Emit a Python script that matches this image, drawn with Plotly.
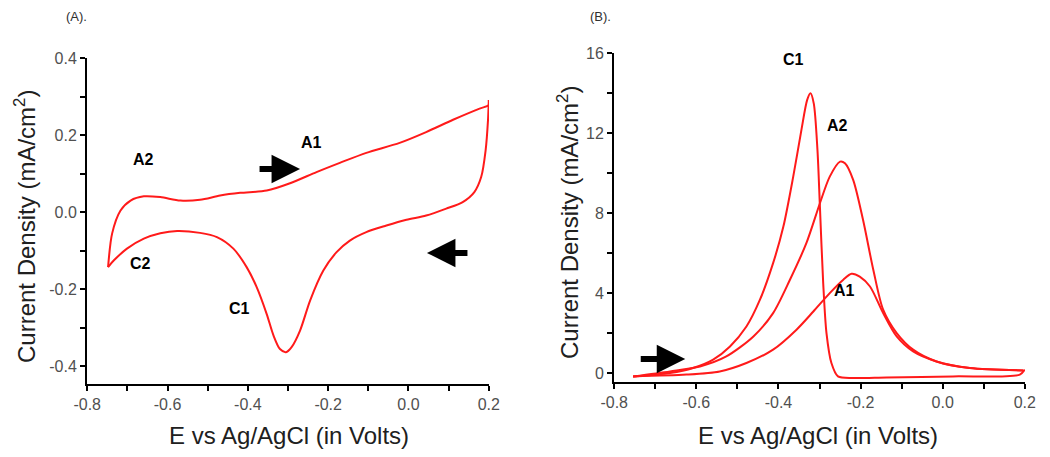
import plotly.graph_objects as go

# ---------------- Data: panel (A) cyclic voltammogram ----------------
a_fwd_x = [-0.748, -0.738, -0.717, -0.692, -0.659, -0.618, -0.568, -0.519, -0.469, -0.419,
           -0.353, -0.295, -0.229, -0.171, -0.105, -0.022, 0.044, 0.111, 0.177, 0.2, 0.2]
a_fwd_y = [-0.143, -0.056, 0.004, 0.030, 0.041, 0.039, 0.030, 0.032, 0.043, 0.050,
           0.056, 0.075, 0.104, 0.128, 0.154, 0.180, 0.208, 0.240, 0.269, 0.278, 0.291]
a_rev_x = [0.2, 0.198, 0.192, 0.181, 0.164, 0.135, 0.094, 0.044, -0.005, -0.055, -0.105,
           -0.146, -0.179, -0.212, -0.245, -0.270, -0.291, -0.305, -0.320, -0.336, -0.353,
           -0.378, -0.403, -0.436, -0.477, -0.519, -0.576, -0.618, -0.659, -0.701, -0.734, -0.748]
a_rev_y = [0.291, 0.239, 0.160, 0.091, 0.052, 0.026, 0.009, -0.009, -0.020, -0.035, -0.052,
           -0.074, -0.104, -0.152, -0.230, -0.308, -0.351, -0.364, -0.356, -0.321, -0.265,
           -0.195, -0.143, -0.095, -0.065, -0.054, -0.049, -0.055, -0.069, -0.095, -0.126, -0.143]

# ---------------- Data: panel (B) ----------------
b_c1_x = [-0.754, -0.664, -0.608, -0.559, -0.518, -0.478, -0.445, -0.413, -0.388, -0.364,
          -0.344, -0.330, -0.322, -0.314, -0.305, -0.299, -0.291, -0.283, -0.271, -0.255,
          -0.218, -0.137, 0.025, 0.188, 0.2]
b_c1_y = [-0.17, 0.0, 0.25, 0.67, 1.33, 2.33, 3.67, 5.5, 7.33, 9.83,
          12.17, 13.67, 14.0, 13.5, 11.17, 8.33, 4.5, 2.0, 0.5, -0.17,
          -0.25, -0.22, -0.17, -0.08, 0.17]
b_a2_x = [-0.754, -0.664, -0.591, -0.527, -0.461, -0.413, -0.372, -0.332, -0.299, -0.275,
          -0.250, -0.238, -0.218, -0.194, -0.169, -0.145, -0.112, -0.072, -0.015, 0.066, 0.196]
b_a2_y = [-0.17, 0.08, 0.33, 0.83, 1.83, 3.0, 4.67, 6.5, 8.5, 9.83,
          10.58, 10.5, 9.67, 7.67, 5.17, 3.17, 2.0, 1.17, 0.58, 0.25, 0.13]
b_a1_x = [-0.754, -0.624, -0.543, -0.478, -0.413, -0.356, -0.315, -0.275, -0.242, -0.222,
          -0.202, -0.177, -0.145, -0.112, -0.072, -0.015, 0.066, 0.196]
b_a1_y = [-0.17, -0.08, 0.08, 0.5, 1.17, 2.17, 3.08, 4.0, 4.67, 4.97,
          4.83, 4.33, 3.0, 1.83, 1.08, 0.58, 0.25, 0.13]

# ---------------- Ticks ----------------
x_tickvals = [-0.8, -0.6, -0.4, -0.2, 0.0, 0.2]
x_ticktext = ["-0.8", "-0.6", "-0.4", "-0.2", "0.0", "0.2"]
x_minor = [-0.7, -0.5, -0.3, -0.1, 0.1]
ya_tickvals = [-0.4, -0.2, 0.0, 0.2, 0.4]
ya_ticktext = ["-0.4", "-0.2", "0.0", "0.2", "0.4"]
ya_minor = [-0.3, -0.1, 0.1, 0.3]
yb_tickvals = [0, 4, 8, 12, 16]
yb_ticktext = ["0", "4", "8", "12", "16"]
yb_minor = [2, 6, 10, 14]

RED = "#ff1a1a"
FONT = "Arial, Liberation Sans, sans-serif"
W, H = 1042, 449  # page has an 8px body margin

def px(x):
    return x / W

def py(y):
    return 1 - y / H

fig = go.Figure()
line = dict(color=RED, width=2, shape="spline", smoothing=0.8)
for xs, ys in [(a_fwd_x, a_fwd_y), (a_rev_x, a_rev_y)]:
    fig.add_trace(go.Scatter(x=xs, y=ys, mode="lines", line=line, xaxis="x", yaxis="y",
                             showlegend=False, hoverinfo="skip"))
for xs, ys in [(b_c1_x, b_c1_y), (b_a2_x, b_a2_y), (b_a1_x, b_a1_y)]:
    fig.add_trace(go.Scatter(x=xs, y=ys, mode="lines", line=line, xaxis="x2", yaxis="y2",
                             showlegend=False, hoverinfo="skip"))

tickfont = dict(family=FONT, size=16, color="#505050")
common = dict(showline=True, linecolor="black", linewidth=2, ticks="outside", ticklen=5,
              tickwidth=2, tickcolor="black", showgrid=False, zeroline=False,
              tickfont=tickfont, mirror=False, automargin=False)

def minor(vals):
    return dict(tickmode="array", tickvals=vals, ticks="outside", ticklen=5,
                tickwidth=2, tickcolor="black", showgrid=False)

fig.update_layout(
    width=W, height=H, autosize=False,
    margin=dict(l=0, r=0, t=0, b=0, pad=0, autoexpand=False),
    paper_bgcolor="white", plot_bgcolor="white",
    xaxis=dict(domain=[px(79), px(481)], range=[-0.8005, 0.2005], anchor="y",
               tickmode="array", tickvals=x_tickvals, ticktext=x_ticktext,
               minor=minor(x_minor), **common),
    yaxis=dict(domain=[py(376), py(50)], range=[-0.4468, 0.4005], anchor="x",
               tickmode="array", tickvals=ya_tickvals, ticktext=ya_ticktext,
               minor=minor(ya_minor), **common),
    xaxis2=dict(domain=[px(606), px(1017)], range=[-0.8005, 0.2005], anchor="y2",
                tickmode="array", tickvals=x_tickvals, ticktext=x_ticktext,
                minor=minor(x_minor), **common),
    yaxis2=dict(domain=[py(374), py(45)], range=[-0.45, 16.02], anchor="x2",
                tickmode="array", tickvals=yb_tickvals, ticktext=yb_ticktext,
                minor=minor(yb_minor), **common),
)

title_font = dict(family=FONT, size=24, color="#202020")
ann = []
# axis titles
ann.append(dict(text="Current Density (mA/cm<sup>2</sup>)", xref="paper", yref="paper",
                x=px(17), y=py(219), textangle=-90, showarrow=False, font=title_font,
                xanchor="center", yanchor="middle"))
ann.append(dict(text="Current Density (mA/cm<sup>2</sup>)", xref="paper", yref="paper",
                x=px(560), y=py(215), textangle=-90, showarrow=False, font=title_font,
                xanchor="center", yanchor="middle"))
ann.append(dict(text="E vs Ag/AgCl (in Volts)", xref="paper", yref="paper",
                x=px(281), y=py(427), showarrow=False, font=title_font,
                xanchor="center", yanchor="middle"))
ann.append(dict(text="E vs Ag/AgCl (in Volts)", xref="paper", yref="paper",
                x=px(810), y=py(427), showarrow=False, font=title_font,
                xanchor="center", yanchor="middle"))
# panel labels
plab = dict(family=FONT, size=13, color="#303030")
ann.append(dict(text="(A).", xref="paper", yref="paper", x=px(56), y=py(9),
                showarrow=False, font=plab, xanchor="left", yanchor="middle"))
ann.append(dict(text="(B).", xref="paper", yref="paper", x=px(580), y=py(8),
                showarrow=False, font=plab, xanchor="left", yanchor="middle"))
# peak labels
lab = dict(family=FONT, size=16, color="black")
for t, x, y, xr, yr in [("A2", -0.659, 0.136, "x", "y"), ("A1", -0.241, 0.18, "x", "y"),
                        ("C2", -0.667, -0.134, "x", "y"), ("C1", -0.420, -0.251, "x", "y"),
                        ("C1", -0.364, 15.67, "x2", "y2"), ("A2", -0.257, 12.37, "x2", "y2"),
                        ("A1", -0.238, 4.12, "x2", "y2")]:
    ann.append(dict(text="<b>%s</b>" % t, x=x, y=y, xref=xr, yref=yr, showarrow=False,
                    font=lab, xanchor="center", yanchor="middle"))
# direction arrows
arrow = dict(showarrow=True, arrowhead=2, arrowwidth=6, arrowsize=0.95, arrowcolor="black",
             text="", ay=0, standoff=0)
ann.append(dict(x=-0.27, y=0.112, xref="x", yref="y", ax=-42, **arrow))
ann.append(dict(x=0.046, y=-0.106, xref="x", yref="y", ax=42, **arrow))
ann.append(dict(x=-0.627, y=0.7, xref="x2", yref="y2", ax=-46, **arrow))
fig.update_layout(annotations=ann)

fig.write_html("out.html")
